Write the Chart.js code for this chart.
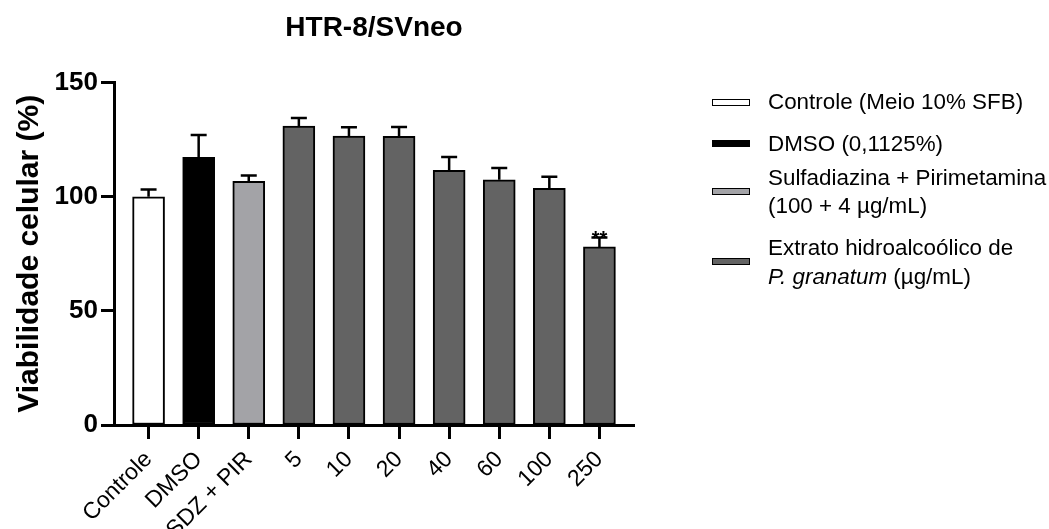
<!DOCTYPE html>
<html>
<head>
<meta charset="utf-8">
<script src="https://cdn.jsdelivr.net/npm/chart.js@4/dist/chart.umd.min.js"></script>
<style>
    body { margin: 0; background: #fff; font-family: 'Liberation Sans', Arial, sans-serif; }
    #wrap { position: relative; width: 1049px; height: 529px; }
    #legend { position: absolute; left: 0; top: 0; }
    .leg-item { position: absolute; left: 768px; font-size: 22.4px; line-height: 28.3px; color: #000; white-space: nowrap; }
    .leg-box { position: absolute; left: 712px; width: 38px; height: 7px; box-sizing: border-box; border: 1.5px solid #000; }
</style>
</head>
<body>
<div id="wrap">
    <canvas id="chart"></canvas>
    <div id="legend"></div>
</div>
<script>
// data
const xLabels = ['Controle', 'DMSO', 'SDZ + PIR', '5', '10', '20', '40', '60', '100', '250'];
const viability = [100, 117.3, 106.8, 131.0, 126.6, 126.5, 111.6, 107.4, 103.7, 78.0];
const sem = [3.2, 9.7, 2.5, 3.5, 3.8, 4.0, 5.8, 5.2, 5.1, 4.1];
const signif = ['', '', '', '', '', '', '', '', '', '**'];
const yTicks = [0, 50, 100, 150];

const groupColors = ['#ffffff', '#000000', '#a3a3a7', '#636363'];
const barGroup = [0, 1, 2, 3, 3, 3, 3, 3, 3, 3];

const legendLabels = [
    'Controle (Meio 10% SFB)',
    'DMSO (0,1125%)',
    'Sulfadiazina + Pirimetamina<br>(100 + 4 \u00b5g/mL)',
    'Extrato hidroalco\u00f3lico de<br><i>P. granatum</i> (\u00b5g/mL)'
];

// html legend
const legendText = [88, 129.6, 163.8, 234.3];
const legendBox = [99, 140, 188, 258];
const legendEl = document.getElementById('legend');
legendLabels.forEach((txt, i) => {
    const box = document.createElement('div');
    box.className = 'leg-box';
    box.style.top = legendBox[i] + 'px';
    box.style.background = groupColors[i];
    legendEl.appendChild(box);
    const lab = document.createElement('div');
    lab.className = 'leg-item';
    lab.style.top = legendText[i] + 'px';
    lab.innerHTML = txt;
    legendEl.appendChild(lab);
});

// error bars + significance marks
const errorBars = {
    id: 'errorBars',
    afterDatasetsDraw(chart) {
        const ctx = chart.ctx;
        const yScale = chart.scales.y;
        const meta = chart.getDatasetMeta(0);
        ctx.save();
        ctx.strokeStyle = '#000';
        ctx.lineWidth = 2.5;
        meta.data.forEach((bar, i) => {
            const yTop = yScale.getPixelForValue(viability[i] + sem[i]);
            ctx.beginPath();
            ctx.moveTo(bar.x, bar.y);
            ctx.lineTo(bar.x, yTop);
            ctx.moveTo(bar.x - 8, yTop);
            ctx.lineTo(bar.x + 8, yTop);
            ctx.stroke();
            if (signif[i]) {
                ctx.fillStyle = '#000';
                ctx.font = "bold 20px 'Liberation Sans', Arial, sans-serif";
                ctx.textAlign = 'center';
                ctx.textBaseline = 'alphabetic';
                ctx.fillText(signif[i], bar.x, yTop + 7);
            }
        });
        ctx.restore();
    }
};

Chart.defaults.font.family = "'Liberation Sans', Arial, sans-serif";
Chart.defaults.color = '#000';

new Chart(document.getElementById('chart'), {
    type: 'bar',
    data: {
        datasets: [{
            data: viability.map((v, i) => ({ x: i, y: v })),
            backgroundColor: barGroup.map(g => groupColors[g]),
            borderColor: '#000',
            borderWidth: 2,
            borderSkipped: false,
            barThickness: 32
        }]
    },
    options: {
        responsive: true,
        maintainAspectRatio: false,
        animation: false,
        layout: { padding: { left: 0, right: 415, top: 0, bottom: 0 } },
        plugins: {
            legend: { display: false },
            tooltip: { enabled: false },
            title: {
                display: true,
                text: 'HTR-8/SVneo',
                fullSize: false,
                font: { size: 28, weight: 'bold' },
                color: '#000',
                padding: { top: 11, bottom: 38 }
            }
        },
        scales: {
            x: {
                type: 'linear',
                offset: false,
                min: -0.69,
                max: 9.69,
                afterBuildTicks: s => { s.ticks = xLabels.map((_, i) => ({ value: i })); },
                afterFit: s => { s.height = 104; },
                grid: { offset: false, drawOnChartArea: false, tickLength: 14, tickWidth: 3, tickColor: '#000' },
                border: { color: '#000', width: 3 },
                ticks: {
                    autoSkip: false,
                    minRotation: 45,
                    maxRotation: 45,
                    padding: 7,
                    font: { size: 23 },
                    color: '#000',
                    callback: v => xLabels[Math.round(v)]
                }
            },
            y: {
                min: 0,
                max: 150,
                afterBuildTicks: s => { s.ticks = yTicks.map(v => ({ value: v })); },
                afterFit: s => { s.width = 114; },
                grid: { drawOnChartArea: false, tickLength: 13, tickWidth: 3, tickColor: '#000' },
                border: { color: '#000', width: 3 },
                ticks: { padding: 3, font: { size: 26, weight: 'bold' }, color: '#000' },
                title: {
                    display: true,
                    text: 'Viabilidade celular (%)',
                    font: { size: 30, weight: 'bold' },
                    color: '#000',
                    padding: { top: 12, bottom: 0 }
                }
            }
        }
    },
    plugins: [errorBars]
});
</script>
</body>
</html>
